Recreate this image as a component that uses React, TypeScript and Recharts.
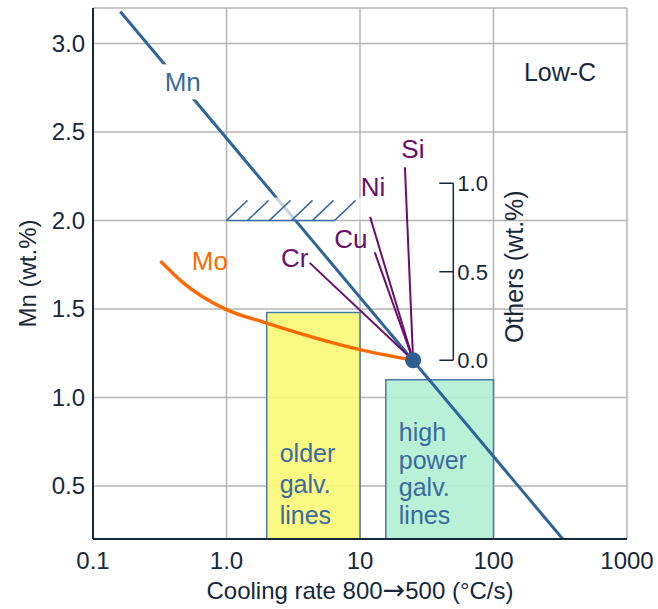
import React from 'react';
import {
  ComposedChart,
  Line,
  XAxis,
  YAxis,
  CartesianGrid,
  ReferenceArea,
  ReferenceLine,
  ReferenceDot,
} from 'recharts';

// axes
const xTicks = [0.1, 1, 10, 100, 1000];
const xTickLabels = ['0.1', '1.0', '10', '100', '1000'];
const yTicks = [0.5, 1.0, 1.5, 2.0, 2.5, 3.0];
const othersTicks = [0.0, 0.5, 1.0];

// Mn critical line and Mo curve (cooling rate, wt.%)
const mnLine = [
  { x: 0.16, y: 3.18 },
  { x: 330, y: 0.2 },
];
const moCurve = [
  { x: 0.32, y: 1.77 },
  { x: 0.47, y: 1.65 },
  { x: 0.97, y: 1.5 },
  { x: 2.0, y: 1.42 },
  { x: 10, y: 1.27 },
  { x: 25, y: 1.21 },
];

// common point of all the element lines
const pivot = { x: 25, y: 1.21 };

// other elements, end of each line
const elements = ['Cr', 'Cu', 'Ni', 'Si'];
const elementX = [4.2, 12.9, 11.9, 21.7];
const elementY = [1.76, 1.82, 2.02, 2.3];

// galvanising lines
const boxLabels = [['older', 'galv.', 'lines'], ['high', 'power', 'galv.', 'lines']];
const boxX1 = [2, 15.6];
const boxX2 = [10, 100];
const boxTop = [1.48, 1.1];

// hatched 2.0 limit
const hatchStarts = [1.0, 1.44, 2.1, 3.07, 4.41, 6.46];
const hatchEnd = 6.46;
const hatchLevel = 2.0;

const FONT = '"Liberation Sans", Arial, sans-serif';
const INK = '#16283a';
const BLUE = '#2f6498';
const LABEL_BLUE = '#3a6aa0';
const PURPLE = '#6a0d6c';
const ORANGE = '#ff6a00';

const othersAxisX = 50;
const mnLabelAt = { x: 0.47, y: 2.78 };
const moLabelAt = { x: 0.75, y: 1.77 };
const lowCAt = { x: 315, y: 2.84 };

// px offsets of the element names from their line ends
const elementLabelOffset: { [k: string]: [number, number] } = {
  Cr: [-15, 4],
  Cu: [-24, -4],
  Ni: [3, -21],
  Si: [8, -9],
};

const BoxLabel = (lines: string[], spacing: number) => (props: any) => {
  const { x, y, height } = props.viewBox;
  const bottom = y + height;
  return (
    <g>
      {lines.map((l, i) => (
        <text
          key={l + i}
          x={x + 13}
          y={bottom - 15 - (lines.length - 1 - i) * spacing}
          fill={LABEL_BLUE}
          fontSize={25}
          fontFamily={FONT}
        >
          {l}
        </text>
      ))}
    </g>
  );
};

const App: React.FC = () => {
  return (
    <div style={{ position: 'absolute', left: 0, top: 0, background: '#fff' }}>
      <ComposedChart width={658} height={609} margin={{ top: 8, right: 31, bottom: 0, left: 0 }}>
        <CartesianGrid stroke="#b4b4b4" strokeWidth={1.5} />

        {boxLabels.map((lines, i) => (
          <ReferenceArea
            key={'box' + i}
            x1={boxX1[i]}
            x2={boxX2[i]}
            y1={0.2}
            y2={boxTop[i]}
            fill={i === 0 ? '#fafa78' : '#b2f0d2'}
            fillOpacity={0.92}
            stroke="#4a78a8"
            strokeWidth={1.5}
            label={BoxLabel(lines, i === 0 ? 31 : 27.7)}
          />
        ))}

        <Line
          data={mnLine}
          dataKey="y"
          type="linear"
          stroke={BLUE}
          strokeWidth={3}
          dot={false}
          activeDot={false}
          isAnimationActive={false}
        />
        <Line
          data={moCurve}
          dataKey="y"
          type="monotone"
          stroke={ORANGE}
          strokeWidth={3.5}
          dot={false}
          activeDot={false}
          isAnimationActive={false}
        />

        {elements.map((el, i) => (
          <ReferenceLine
            key={el}
            segment={[pivot, { x: elementX[i], y: elementY[i] }]}
            stroke={PURPLE}
            strokeWidth={2}
          />
        ))}

        {/* hatched limit at Mn = 2.0, with a pale band behind it */}
        <ReferenceLine
          segment={[{ x: 1, y: hatchLevel }, { x: hatchEnd, y: hatchLevel }]}
          stroke={LABEL_BLUE}
          strokeWidth={1.5}
        />
        <ReferenceDot
          x={1}
          y={hatchLevel}
          r={0}
          shape={(p: any) => (
            <rect x={p.cx + 1} y={p.cy - 23} width={134} height={22} fill="#ffffff" fillOpacity={0.7} />
          )}
        />
        {hatchStarts.map((s) => (
          <ReferenceDot
            key={'h' + s}
            x={s}
            y={hatchLevel}
            r={0}
            shape={(p: any) => (
              <line x1={p.cx} y1={p.cy} x2={p.cx + 21} y2={p.cy - 20} stroke={LABEL_BLUE} strokeWidth={1.5} />
            )}
          />
        ))}

        {/* Others axis */}
        <ReferenceLine
          segment={[{ x: othersAxisX, y: pivot.y }, { x: othersAxisX, y: pivot.y + 1.0 }]}
          stroke={INK}
          strokeWidth={1.5}
        />
        {othersTicks.map((t) => (
          <ReferenceDot
            key={'o' + t}
            x={othersAxisX}
            y={pivot.y + t}
            r={0}
            shape={(p: any) => (
              <g>
                <line x1={p.cx - 14} y1={p.cy} x2={p.cx} y2={p.cy} stroke={INK} strokeWidth={1.5} />
                <text x={p.cx + 4} y={p.cy + 8} fill={INK} fontSize={22} fontFamily={FONT}>
                  {t.toFixed(1)}
                </text>
              </g>
            )}
          />
        ))}
        <ReferenceDot
          x={othersAxisX}
          y={pivot.y + 0.5}
          r={0}
          shape={(p: any) => (
            <text
              transform={`translate(${p.cx + 61},${p.cy - 5}) rotate(-90)`}
              textAnchor="middle"
              dy="0.35em"
              fill={INK}
              fontSize={25}
              fontFamily={FONT}
            >
              Others (wt.%)
            </text>
          )}
        />

        {elements.map((el, i) => (
          <ReferenceDot
            key={'l' + el}
            x={elementX[i]}
            y={elementY[i]}
            r={0}
            shape={(p: any) => (
              <text
                x={p.cx + elementLabelOffset[el][0]}
                y={p.cy + elementLabelOffset[el][1]}
                textAnchor="middle"
                fill={PURPLE}
                fontSize={26}
                fontFamily={FONT}
              >
                {el}
              </text>
            )}
          />
        ))}

        <ReferenceDot x={pivot.x} y={pivot.y} r={8} fill="#2e5e90" stroke="none" />

        <ReferenceDot
          x={mnLabelAt.x}
          y={mnLabelAt.y}
          r={0}
          shape={(p: any) => (
            <g>
              <rect x={p.cx - 20} y={p.cy - 18} width={40} height={35} fill="#ffffff" />
              <text x={p.cx} y={p.cy + 9} textAnchor="middle" fill={LABEL_BLUE} fontSize={26} fontFamily={FONT}>
                Mn
              </text>
            </g>
          )}
        />
        <ReferenceDot
          x={moLabelAt.x}
          y={moLabelAt.y}
          r={0}
          shape={(p: any) => (
            <text x={p.cx} y={p.cy + 9} textAnchor="middle" fill={ORANGE} fontSize={26} fontFamily={FONT}>
              Mo
            </text>
          )}
        />
        <ReferenceDot
          x={lowCAt.x}
          y={lowCAt.y}
          r={0}
          shape={(p: any) => (
            <text x={p.cx} y={p.cy + 9} textAnchor="middle" fill={INK} fontSize={25} fontFamily={FONT}>
              Low-C
            </text>
          )}
        />

        <XAxis
          dataKey="x"
          type="number"
          scale="log"
          domain={[0.1, 1000]}
          ticks={xTicks}
          interval={0}
          allowDataOverflow
          tickFormatter={(v: number) => xTickLabels[xTicks.indexOf(v)] ?? String(v)}
          tickLine={false}
          tickSize={0}
          tickMargin={13}
          height={70}
          axisLine={{ stroke: INK, strokeWidth: 2 }}
          tick={{ fill: INK, fontSize: 24, fontFamily: FONT }}
          label={{
            content: (p: any) => (
              <text
                x={p.viewBox.x + p.viewBox.width / 2}
                y={p.viewBox.y + 60}
                textAnchor="middle"
                fill={INK}
                fontSize={24}
                fontFamily={FONT}
              >
                Cooling rate 800<tspan fontFamily='"DejaVu Sans", sans-serif' fontSize={27}>→</tspan>500 (°C/s)
              </text>
            ),
          }}
        />
        <YAxis
          type="number"
          domain={[0.2, 3.2]}
          ticks={yTicks}
          interval={0}
          allowDataOverflow
          tickFormatter={(v: number) => v.toFixed(1)}
          tickLine={false}
          tickSize={0}
          tickMargin={8}
          width={93}
          axisLine={{ stroke: INK, strokeWidth: 2 }}
          tick={{ fill: INK, fontSize: 24, fontFamily: FONT }}
          label={{
            content: (p: any) => (
              <text
                transform={`translate(28,${p.viewBox.y + p.viewBox.height / 2}) rotate(-90)`}
                textAnchor="middle"
                dy="0.35em"
                fill={INK}
                fontSize={24}
                fontFamily={FONT}
              >
                Mn (wt.%)
              </text>
            ),
          }}
        />
        <XAxis
          xAxisId="top"
          orientation="top"
          type="number"
          scale="log"
          domain={[0.1, 1000]}
          height={0}
          tick={false}
          tickLine={false}
          axisLine={{ stroke: INK, strokeWidth: 1.5 }}
        />
        <YAxis
          yAxisId="right"
          orientation="right"
          type="number"
          domain={[0.2, 3.2]}
          width={0}
          tick={false}
          tickLine={false}
          axisLine={{ stroke: INK, strokeWidth: 1.5 }}
        />
      </ComposedChart>
    </div>
  );
};

export default App;
